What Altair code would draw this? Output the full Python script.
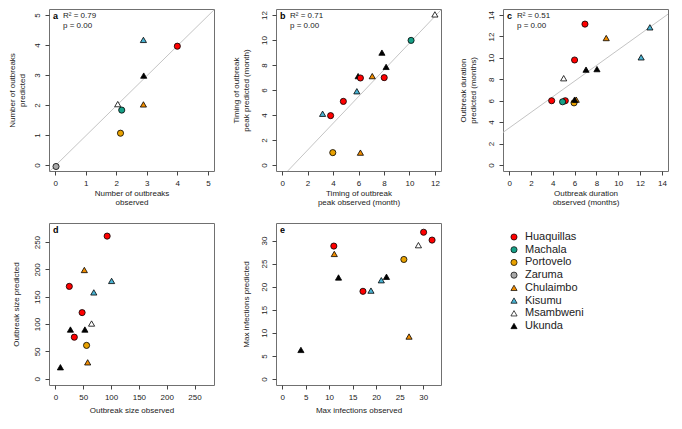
import altair as alt
import pandas as pd

FONT = "Liberation Sans"

# ---- sites / legend ----
sites = ["Huaquillas", "Machala", "Portovelo", "Zaruma",
         "Chulaimbo", "Kisumu", "Msambweni", "Ukunda"]
site_colors = ["#ff0000", "#17a087", "#e8a100", "#a8a8a8",
               "#f08c00", "#4ab3d3", "#ffffff", "#000000"]
site_shapes = ["circle"] * 4 + ["triangle-up"] * 4
site_sizes = [38] * 4 + [54] * 4
legend_sizes = [26] * 4 + [40] * 4

# ---- panel a : number of outbreaks ----
a_site = ["Huaquillas", "Machala", "Portovelo", "Zaruma",
          "Kisumu", "Ukunda", "Chulaimbo", "Msambweni"]
a_obs = [4.0, 2.18, 2.14, 0.03, 2.89, 2.9, 2.89, 2.05]
a_pred = [3.96, 1.83, 1.06, -0.05, 4.17, 2.98, 2.02, 2.03]
a_fit = [-0.03, 1.0]          # intercept, slope
a_r2, a_p = 0.79, 0.00

# ---- panel b : timing of outbreak peak ----
b_site = ["Msambweni", "Machala", "Ukunda", "Ukunda", "Ukunda", "Huaquillas",
          "Chulaimbo", "Huaquillas", "Kisumu", "Huaquillas", "Kisumu",
          "Huaquillas", "Portovelo", "Chulaimbo"]
b_obs = [12.0, 10.13, 7.84, 8.17, 5.97, 6.15, 7.08, 8.02, 5.87, 4.81,
         3.18, 3.81, 3.98, 6.15]
b_pred = [12.05, 9.97, 8.99, 7.85, 7.11, 6.96, 7.11, 6.99, 5.9, 5.09,
          4.1, 3.95, 0.99, 0.99]
b_fit = [-0.95, 1.07]
b_r2, b_p = 0.71, 0.00

# ---- panel c : outbreak duration ----
c_site = ["Huaquillas", "Chulaimbo", "Kisumu", "Kisumu", "Huaquillas",
          "Ukunda", "Ukunda", "Msambweni", "Huaquillas", "Huaquillas",
          "Machala", "Portovelo", "Chulaimbo", "Ukunda"]
c_obs = [6.95, 8.9, 12.9, 12.1, 6.0, 7.05, 8.05, 5.0, 3.9, 5.15,
         4.9, 5.95, 6.15, 6.0]
c_pred = [13.15, 11.85, 12.85, 10.05, 9.8, 8.9, 8.95, 8.1, 6.0, 6.0,
          5.9, 5.8, 6.1, 6.1]
c_fit = [3.45, 0.73]
c_r2, c_p = 0.51, 0.00

# ---- panel d : outbreak size ----
d_site = ["Huaquillas", "Chulaimbo", "Huaquillas", "Kisumu", "Kisumu",
          "Huaquillas", "Msambweni", "Ukunda", "Ukunda", "Huaquillas",
          "Portovelo", "Chulaimbo", "Ukunda"]
d_obs = [93, 52, 25, 101, 69, 48, 65, 27, 53, 34, 56, 58, 9]
d_pred = [261, 199, 169, 179, 158, 121, 101, 90, 90, 76, 61, 30, 21]

# ---- panel e : max infections ----
e_site = ["Huaquillas", "Huaquillas", "Msambweni", "Huaquillas", "Chulaimbo",
          "Portovelo", "Ukunda", "Ukunda", "Kisumu", "Kisumu", "Huaquillas",
          "Chulaimbo", "Ukunda"]
e_obs = [30.1, 31.9, 29.0, 11.0, 11.1, 25.9, 12.0, 22.2, 21.1, 18.9, 17.2,
         27.0, 4.0]
e_pred = [31.8, 30.1, 29.0, 28.8, 27.1, 25.9, 22.0, 22.15, 21.4, 19.15,
          19.0, 9.2, 6.3]

W, H = 165, 162
TXT = "#222222"

fill_scale = alt.Scale(domain=sites, range=site_colors)
shape_scale = alt.Scale(domain=sites, range=site_shapes)


def axis_common():
    return dict(tickSize=4, labelPadding=4, grid=False, domain=False,
                tickColor="#444444", tickWidth=1,
                labelFontSize=8, titleFontSize=8, titleFontWeight="normal",
                labelColor=TXT, titleColor=TXT, labelFont=FONT, titleFont=FONT,
                labelFlush=False, labelOverlap=False, titleLineHeight=9.5)


def panel(letter, site, obs, pred, dom, ticks, xtitle, ytitle,
          ytp, xtp, fit=None, r2=None, p=None):
    df = pd.DataFrame({"site": site, "obs": obs, "pred": pred})
    xs = alt.Scale(domain=dom, nice=False, zero=False)
    ys = alt.Scale(domain=dom, nice=False, zero=False)
    xax = alt.Axis(values=ticks, title=xtitle, titlePadding=xtp, **axis_common())
    yax = alt.Axis(values=ticks, title=ytitle, titlePadding=ytp,
                   labelAngle=270, labelAlign="center", labelBaseline="bottom",
                   **axis_common())
    layers = []
    if fit is not None:
        fd = pd.DataFrame({"obs": dom, "pred": [fit[0] + fit[1] * v for v in dom]})
        layers.append(
            alt.Chart(fd).mark_line(color="#c4c4c4", strokeWidth=1, clip=True).encode(
                x=alt.X("obs:Q", scale=xs, axis=xax),
                y=alt.Y("pred:Q", scale=ys, axis=yax),
            )
        )
    layers.append(
        alt.Chart(df).mark_point(opacity=1, stroke="black", strokeWidth=0.8).encode(
            x=alt.X("obs:Q", scale=xs, axis=xax),
            y=alt.Y("pred:Q", scale=ys, axis=yax),
            fill=alt.Fill("site:N", scale=fill_scale, legend=None),
            shape=alt.Shape("site:N", scale=shape_scale, legend=None),
            size=alt.Size("site:N", scale=alt.Scale(domain=sites, range=site_sizes),
                          legend=None),
        )
    )
    ldf = pd.DataFrame({"label": [letter]})
    layers.append(
        alt.Chart(ldf).mark_text(align="left", baseline="middle", fontWeight="bold",
                                 fontSize=9, font=FONT, color="black").encode(
            x=alt.value(4), y=alt.value(7), text="label:N")
    )
    if r2 is not None:
        for txt, yv in ((f"R\u00b2 = {r2:.2f}", 7), (f"p =  {p:.2f}", 16.5)):
            sdf = pd.DataFrame({"line": [txt]})
            layers.append(
                alt.Chart(sdf).mark_text(align="left", baseline="middle", fontSize=8,
                                         font=FONT, color=TXT).encode(
                    x=alt.value(14), y=alt.value(yv), text="line:N")
            )
    return alt.layer(*layers).properties(width=W, height=H)


pa = panel("a", a_site, a_obs, a_pred, [-0.2, 5.2], [0, 1, 2, 3, 4, 5],
           ["Number of outbreaks", "observed"], ["Number of outbreaks", "predicted"],
           7, 2, a_fit, a_r2, a_p)
pb = panel("b", b_site, b_obs, b_pred, [-0.48, 12.48], [0, 2, 4, 6, 8, 10, 12],
           ["Timing of outbreak", "peak observed (month)"],
           ["Timing of outbreak", "peak predicted (month)"],
           10, 2, b_fit, b_r2, b_p)
pc = panel("c", c_site, c_obs, c_pred, [-0.56, 14.56], [0, 2, 4, 6, 8, 10, 12, 14],
           ["Outbreak duration", "observed (months)"],
           ["Outbreak duration", "predicted (months)"],
           10, 2, c_fit, c_r2, c_p)
pd_ = panel("d", d_site, d_obs, d_pred, [-11.5, 285], [0, 50, 100, 150, 200, 250],
            "Outbreak size observed", "Outbreak size predicted", 13, 5)
pe = panel("e", e_site, e_obs, e_pred, [-1.3, 33.8], [0, 5, 10, 15, 20, 25, 30],
           "Max infections observed", "Max infections predicted", 10, 5)

leg_df = pd.DataFrame({"site": sites})
leg_y = alt.Y("site:N", sort=sites,
              scale=alt.Scale(type="point", domain=sites, range=[14, 103], padding=0),
              axis=None)
leg_sym = alt.Chart(leg_df).mark_point(opacity=1, stroke="black", strokeWidth=0.7).encode(
    x=alt.value(11), y=leg_y,
    fill=alt.Fill("site:N", scale=fill_scale, legend=None),
    shape=alt.Shape("site:N", scale=shape_scale, legend=None),
    size=alt.Size("site:N", scale=alt.Scale(domain=sites, range=legend_sizes), legend=None),
)
leg_txt = alt.Chart(leg_df).mark_text(align="left", baseline="middle", fontSize=11,
                                      font=FONT, color=TXT).encode(
    x=alt.value(22), y=leg_y, text="site:N")
legend = alt.layer(leg_sym, leg_txt).properties(
    width=W, height=H, view=alt.ViewBackground(stroke="transparent"))

chart = alt.concat(pa, pb, pc, pd_, pe, legend, columns=3,
                   spacing={"row": 52, "column": 62}, bounds="flush",
                   padding=0).configure_view(stroke="#707070", strokeWidth=1)

chart.save("out.html", embed_options={"renderer": "svg", "actions": False})
